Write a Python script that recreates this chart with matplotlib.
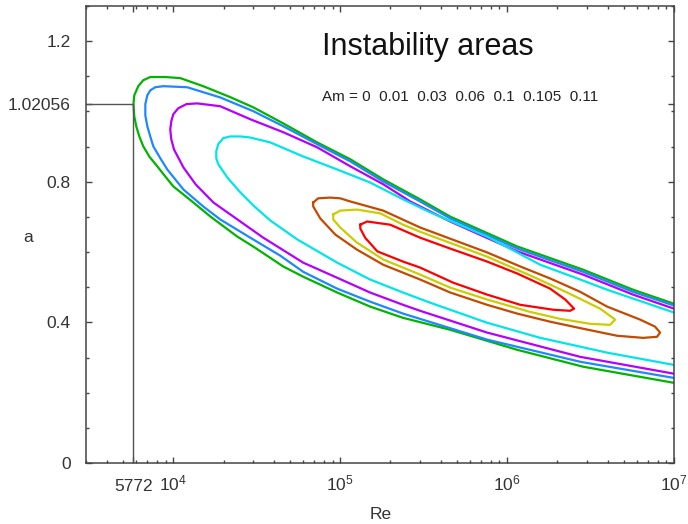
import matplotlib
matplotlib.use('Agg')
import matplotlib.pyplot as plt
from matplotlib.ticker import LogLocator, MultipleLocator, NullFormatter

plt.rcParams['font.family'] = ['Liberation Sans', 'DejaVu Sans']
plt.rcParams['mathtext.fontset'] = 'custom'
plt.rcParams['mathtext.rm'] = 'Liberation Sans'
plt.rcParams['mathtext.it'] = 'Liberation Sans:italic'

# --- DATA: neutral curves a(Re) for each Am ---
AM_VALUES = ['0', '0.01', '0.03', '0.06', '0.1', '0.105', '0.11']
RE_CRIT = 5772
A_CRIT = 1.02056

re_am0 = [1e7, 5.68e6, 2.85e6, 1.15e6, 4.56e5, 3.01e5, 1.81e5, 1.15e5, 7.28e4, 4.56e4,
          3.01e4, 2.19e4, 1.51e4, 1.10e4, 8960, 7280, 6610, 6170, 5840, 5772,
          5840, 6000, 6260, 6610, 7180, 8020, 8960, 1.0e4, 1.32e4, 1.67e4,
          2.42e4, 3.01e4, 4.56e4, 6.0e4, 9.59e4, 1.51e5, 2.38e5, 4.56e5, 1.15e6, 2.85e6,
          1e7]
a_am0 = [0.453, 0.493, 0.550, 0.616, 0.701, 0.750, 0.807, 0.864, 0.912, 0.966,
         1.012, 1.041, 1.072, 1.095, 1.098, 1.098, 1.089, 1.072, 1.046, 1.021,
         0.986, 0.958, 0.929, 0.901, 0.872, 0.844, 0.815, 0.787, 0.741, 0.701,
         0.644, 0.616, 0.559, 0.530, 0.485, 0.445, 0.413, 0.379, 0.322, 0.274,
         0.228]

re_am001 = [1e7, 5.68e6, 2.85e6, 1.15e6, 4.56e5, 3.01e5, 1.81e5, 1.15e5, 7.28e4, 4.56e4,
            3.01e4, 1.91e4, 1.21e4, 8710, 7800, 7280, 6990, 6800, 6800, 6990,
            7280, 7590, 8360, 9210, 1.15e4, 1.51e4, 1.91e4, 3.01e4, 4.37e4, 6.0e4,
            9.59e4, 1.51e5, 2.38e5, 3.01e5, 7.59e5, 2.74e6, 1e7]
a_am001 = [0.448, 0.487, 0.544, 0.610, 0.696, 0.744, 0.801, 0.858, 0.907, 0.958,
           1.001, 1.040, 1.069, 1.072, 1.069, 1.060, 1.046, 1.021, 0.989, 0.958,
           0.929, 0.901, 0.867, 0.835, 0.778, 0.730, 0.693, 0.636, 0.590, 0.544,
           0.496, 0.459, 0.425, 0.410, 0.351, 0.288, 0.242]

re_am003 = [1e7, 5.68e6, 2.85e6, 1.15e6, 4.56e5, 2.63e5, 1.81e5, 1.15e5, 7.28e4, 4.56e4,
            2.89e4, 1.91e4, 1.39e4, 1.20e4, 1.07e4, 1.0e4, 9730, 9590, 9730, 1.01e4,
            1.15e4, 1.36e4, 1.74e4, 2.42e4, 3.46e4, 5.02e4, 6.0e4, 9.59e4, 1.51e5, 2.38e5,
            3.01e5, 7.59e5, 2.74e6, 1e7]
a_am003 = [0.439, 0.479, 0.536, 0.602, 0.687, 0.744, 0.793, 0.844, 0.898, 0.941,
           0.978, 1.015, 1.023, 1.021, 1.009, 0.992, 0.972, 0.949, 0.921, 0.892,
           0.841, 0.793, 0.741, 0.693, 0.641, 0.593, 0.570, 0.527, 0.485, 0.450,
           0.433, 0.371, 0.302, 0.254]

re_am006 = [1e7, 3.97e6, 2.74e6, 1.58e6, 7.59e5, 3.46e5, 2.38e5, 1.51e5, 9.59e4, 6.0e4,
            3.81e4, 2.89e4, 2.52e4, 2.19e4, 1.99e4, 1.86e4, 1.81e4, 1.81e4, 1.86e4, 2.11e4,
            2.52e4, 3.01e4, 3.81e4, 5.53e4, 9.59e4, 1.51e5, 2.38e5, 3.46e5, 7.59e5, 1.58e6,
            2.74e6, 3.97e6, 1e7]
a_am006 = [0.428, 0.493, 0.522, 0.564, 0.644, 0.713, 0.750, 0.798, 0.835, 0.872,
           0.912, 0.926, 0.929, 0.929, 0.924, 0.907, 0.887, 0.867, 0.850, 0.812,
           0.770, 0.733, 0.690, 0.636, 0.570, 0.522, 0.485, 0.456, 0.399, 0.356,
           0.331, 0.314, 0.279]

re_am01 = [6.89e4, 7.38e4, 8.71e4, 1.0e5, 1.15e5, 1.81e5, 3.01e5, 7.59e5, 1.20e6, 1.81e6,
           2.74e6, 3.97e6, 6.26e6, 7.69e6, 8.25e6, 7.91e6, 6.53e6, 4.56e6, 2.85e6, 1.81e6,
           1.15e6, 7.59e5, 4.56e5, 3.01e5, 1.81e5, 1.26e5, 9.34e4, 7.59e4, 6.89e4]
a_am01 = [0.741, 0.753, 0.755, 0.753, 0.744, 0.718, 0.670, 0.599, 0.559, 0.525,
          0.487, 0.445, 0.408, 0.388, 0.371, 0.359, 0.356, 0.362, 0.382, 0.402,
          0.425, 0.450, 0.485, 0.522, 0.564, 0.607, 0.650, 0.696, 0.730]

re_am0105 = [9.08e4, 1.0e5, 1.26e5, 1.74e5, 2.38e5, 3.01e5, 7.59e5, 1.43e6, 2.29e6, 3.61e6,
             4.44e6, 4.14e6, 3.14e6, 2.08e6, 1.37e6, 7.59e5, 4.56e5, 3.01e5, 1.81e5, 1.26e5,
             1.0e5, 9.08e4]
a_am0105 = [0.707, 0.718, 0.721, 0.710, 0.678, 0.658, 0.587, 0.530, 0.485, 0.439,
            0.408, 0.393, 0.396, 0.410, 0.430, 0.465, 0.499, 0.536, 0.579, 0.627,
            0.670, 0.693]

re_am011 = [1.32e5, 1.45e5, 1.99e5, 3.01e5, 4.56e5, 7.59e5, 1.15e6, 1.81e6, 2.23e6, 2.52e6,
            2.38e6, 1.89e6, 1.20e6, 7.59e5, 4.75e5, 3.01e5, 2.38e5, 1.67e5, 1.41e5, 1.32e5]
a_am011 = [0.678, 0.687, 0.678, 0.641, 0.610, 0.573, 0.539, 0.496, 0.465, 0.439,
           0.433, 0.436, 0.450, 0.479, 0.513, 0.556, 0.573, 0.602, 0.641, 0.667]

curves = [
    (re_am0, a_am0, '#00b400', False),
    (re_am001, a_am001, '#1e88ff', False),
    (re_am003, a_am003, '#b400ff', False),
    (re_am006, a_am006, '#00e6e6', False),
    (re_am01, a_am01, '#c44a00', True),
    (re_am0105, a_am0105, '#cccc00', True),
    (re_am011, a_am011, '#ff0000', True),
]

fig = plt.figure(figsize=(6.88, 5.24), dpi=100)
ax = fig.add_axes([0.125, 0.1164, 0.8547, 0.8721])

for re, a, col, closed in curves:
    if closed:
        re = re + re[:1]
        a = a + a[:1]
    ax.plot(re, a, color=col, lw=1.6, solid_joinstyle='round')

# critical point marker lines
ax.plot([RE_CRIT, RE_CRIT, 3000], [0, A_CRIT, A_CRIT], color='#555555', lw=1.0)

ax.set_xscale('log')
ax.set_xlim(3000, 1e7)
ax.set_ylim(0, 1.3)

ax.set_xticks([RE_CRIT, 1e4, 1e5, 1e6, 1e7])
ax.set_xticklabels(['5772', r'$10^{4}$', r'$10^{5}$', r'$10^{6}$', r'$10^{7}$'])
ax.xaxis.set_minor_locator(LogLocator(base=10, subs=range(2, 10)))
ax.xaxis.set_minor_formatter(NullFormatter())

ax.set_yticks([0, 0.4, 0.8, A_CRIT, 1.2])
ax.set_yticklabels(['0', '0.4', '0.8', '1.02056', '1.2'])
ax.yaxis.set_minor_locator(MultipleLocator(0.1))

ax.tick_params(which='both', direction='in', top=True, right=True, colors='#444444',
               labelcolor='#333333', labelsize=12.5)
ax.tick_params(which='major', length=4, width=1)
ax.tick_params(which='minor', length=2.5, width=1)
ax.tick_params(axis='y', pad=11)
ax.tick_params(axis='x', pad=20)
for t in ax.xaxis.get_major_ticks():
    t.label1.set_verticalalignment('baseline')

for s in ax.spines.values():
    s.set_color('#444444')
    s.set_linewidth(1.1)

ax.set_xlabel('Re', fontsize=12.5, color='#333333', va='center')
ax.xaxis.set_label_coords(0.5017, -0.1116)
ax.set_ylabel('a', fontsize=12.5, color='#333333', rotation=0, va='center', ha='center')
ax.yaxis.set_label_coords(-0.0986, 0.4945)

ax.text(0.401, 0.91, 'Instability areas', transform=ax.transAxes, fontsize=22,
        ha='left', va='center', color='#111111')
ax.text(0.401, 0.801, 'Am = ' + '  '.join(AM_VALUES), transform=ax.transAxes,
        fontsize=11, ha='left', va='center', color='#222222')

fig.savefig('out.png', dpi=100)
